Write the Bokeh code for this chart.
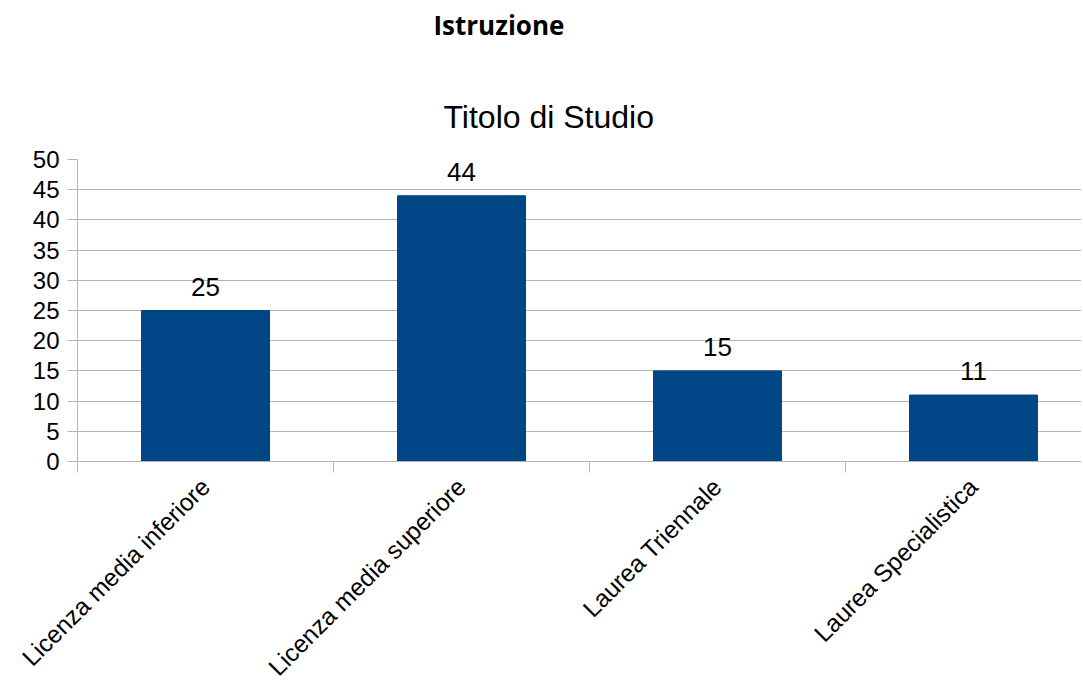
import math
from bokeh.plotting import figure
from bokeh.models import Range1d, FixedTicker, Title, ColumnDataSource
from bokeh.core.properties import value
from bokeh.embed import file_html
from bokeh.resources import INLINE

# ---- data ----
categories = ["Licenza media inferiore", "Licenza media superiore", "Laurea Triennale", "Laurea Specialistica"]
counts = [25, 44, 15, 11]
y_ticks = [0, 5, 10, 15, 20, 25, 30, 35, 40, 45, 50]
page_title = "Istruzione"
chart_title = "Titolo di Studio"

BLUE = "#004586"
GRID = "#b3b3b3"
FONT = "Liberation Sans"

centers = [i + 0.5 for i in range(len(categories))]
src = ColumnDataSource(dict(x=centers, top=counts, lab=[str(c) for c in counts]))

p = figure(width=1081, height=693, output_backend="svg", toolbar_location=None,
           x_range=Range1d(0, 3.922), y_range=Range1d(0, 50),
           min_border_left=77, min_border_right=0, min_border_bottom=226, min_border_top=0)
p.title = None
p.outline_line_color = None
p.background_fill_color = "white"

t2 = Title(text=chart_title, text_font=FONT, text_font_size="32px", text_font_style="normal",
           text_color="black", align="left", offset=366, standoff=50)
spacer = Title(text=" ", text_font=FONT, text_font_size="1px", align="left", standoff=22)
t1 = Title(text=page_title, text_font="Open Sans", text_font_size="26px", text_font_style="bold",
           text_color="black", align="left", offset=356, standoff=8)
p.add_layout(t2, "above")
p.add_layout(spacer, "above")
p.add_layout(t1, "above")

p.vbar(x="x", top="top", width=0.5, bottom=0, source=src, color=BLUE, line_color=BLUE)
p.text(x="x", y="top", text="lab", source=src, text_align="center", text_baseline="alphabetic",
       y_offset=-24, text_font=value(FONT), text_font_size="26px", text_color="black")

# x axis
xa = p.xaxis[0]
xa.ticker = FixedTicker(ticks=centers, minor_ticks=list(range(len(categories))))
xa.major_label_overrides = {c: n for c, n in zip(centers, categories)}
xa.major_label_orientation = math.pi / 4
xa.major_tick_out = 0
xa.major_tick_in = 0
xa.minor_tick_out = 11
xa.minor_tick_in = 0
xa.minor_tick_line_color = GRID
xa.axis_line_color = GRID
xa.major_label_standoff = 10
xa.major_label_text_font = FONT
xa.major_label_text_font_size = "24.5px"
xa.major_label_text_color = "black"

# y axis
ya = p.yaxis[0]
ya.ticker = FixedTicker(ticks=y_ticks)
ya.major_tick_out = 10
ya.major_tick_in = 0
ya.minor_tick_out = 0
ya.minor_tick_in = 0
ya.major_tick_line_color = GRID
ya.axis_line_color = GRID
ya.major_label_standoff = 8
ya.major_label_text_font = FONT
ya.major_label_text_font_size = "24px"
ya.major_label_text_color = "black"

p.xgrid.visible = False
p.ygrid.grid_line_color = GRID
p.ygrid.grid_line_width = 1

open("out.html", "w").write(file_html(p, INLINE))
